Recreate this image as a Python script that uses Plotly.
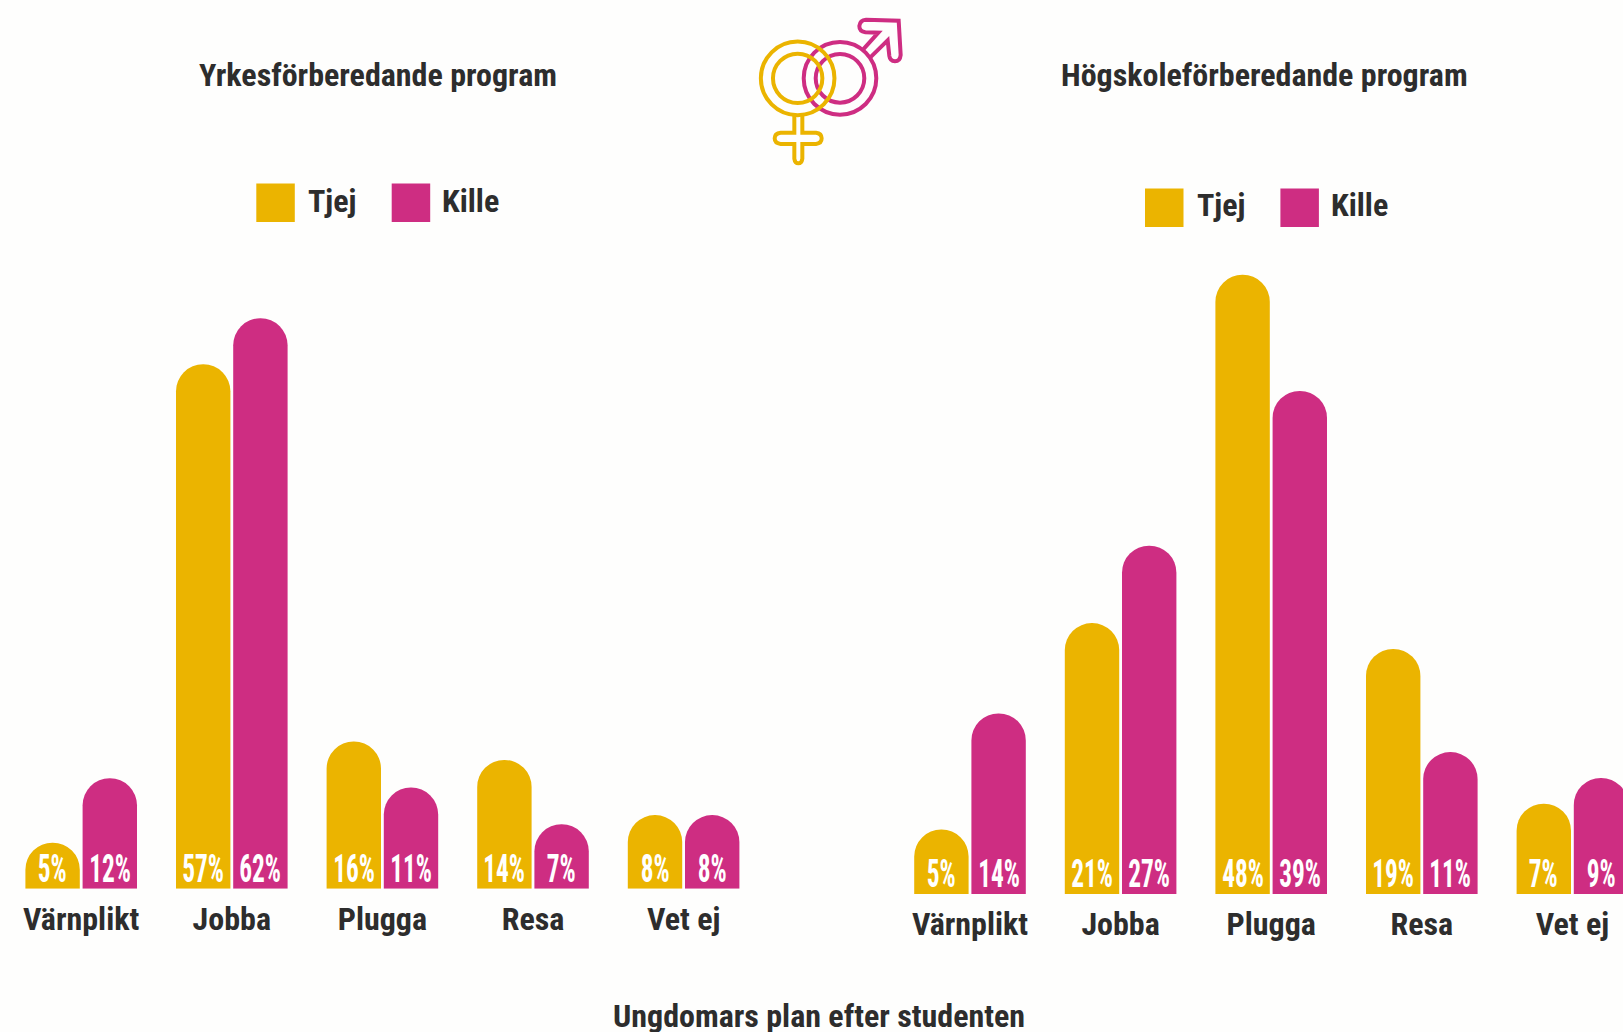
import plotly.graph_objects as go

W, H = 1623, 1032
categories = ["Värnplikt", "Jobba", "Plugga", "Resa", "Vet ej"]
left_tjej = [5, 57, 16, 14, 8]
left_kille = [12, 62, 11, 7, 8]
right_tjej = [5, 21, 48, 19, 7]
right_kille = [14, 27, 39, 11, 9]
series_names = ["Tjej", "Kille"]
left_title = "Yrkesförberedande program"
right_title = "Högskoleförberedande program"
footer = "Ungdomars plan efter studenten"

YELLOW = "#EBB400"
PINK = "#CE2D82"
DARK = "#2D2D2D"
BG = "#FEFEFD"
HEAD = "Roboto Condensed, Liberation Sans Narrow, Roboto, sans-serif"

def px(x): return x / W
def py(y): return 1 - y / H

fig = go.Figure()
ann = []
BAR_SHIFT = 28.6
def add_bars(vals, name, color, xa, ya, shift):
    fig.add_trace(go.Bar(
        x=categories, y=vals, name=name, xaxis=xa, yaxis=ya,
        marker=dict(color=color, cornerradius=27, line=dict(width=0)),
        showlegend=False, hoverinfo="skip"))
    for i, v in enumerate(vals):
        ann.append(dict(xref=xa, yref=ya, x=i, y=0, text=f"{v}%", showarrow=False,
                        xanchor="center", yanchor="bottom", xshift=shift, yshift=-5,
                        font=dict(family=HEAD, size=39, color="white", weight="bold")))
add_bars(left_tjej, series_names[0], YELLOW, "x", "y", -BAR_SHIFT)
add_bars(left_kille, series_names[1], PINK, "x", "y", BAR_SHIFT)
add_bars(right_tjej, series_names[0], YELLOW, "x2", "y2", -BAR_SHIFT)
add_bars(right_kille, series_names[1], PINK, "x2", "y2", BAR_SHIFT)

PITCH = 150.6
def xaxis(domain, rng):
    return dict(domain=domain, range=rng, type="category", categoryorder="array", categoryarray=categories,
                showgrid=False, zeroline=False, showline=False, ticks="", ticklabelstandoff=8,
                tickfont=dict(family=HEAD, size=32, color=DARK, weight="bold"))
def yaxis(bottom_px, top_px, pp):
    return dict(domain=[py(bottom_px), py(top_px)], range=[0, (bottom_px - top_px) / pp],
                visible=False)

ya1 = yaxis(888.7, 250, 9.2); ya1["anchor"] = "x"
ya2 = yaxis(894, 250, 12.9); ya2["anchor"] = "x2"
xa1 = xaxis([px(5.9), px(5.9 + 5 * PITCH)], [-0.5, 4.5]); xa1["anchor"] = "y"
xa2 = xaxis([px(894.7), 1], [-0.5, (W - 970) / PITCH]); xa2["anchor"] = "y2"

def txt(x, y, s, size, anchor="center"):
    ann.append(dict(xref="paper", yref="paper", x=px(x), y=py(y), text=s, showarrow=False,
                    xanchor=anchor, yanchor="middle",
                    font=dict(family=HEAD, size=size, color=DARK, weight="bold")))
txt(377.8, 75, left_title, 32)
txt(1264.4, 75, right_title, 32)
txt(819, 1016, footer, 32)

shapes = []
def square(x0, y0, c):
    shapes.append(dict(type="rect", xref="paper", yref="paper", x0=px(x0), x1=px(x0 + 38.5),
                       y0=py(y0), y1=py(y0 + 38.5), fillcolor=c, line=dict(width=0)))
for (x0, y0, tx1, tx2) in [(256.3, 183.5, 305.7, 440), (1145, 188.4, 1194.6, 1328.5)]:
    square(x0, y0, YELLOW)
    square(x0 + 135.4, y0, PINK)
    txt(tx1, y0 + 17, series_names[0], 32, "left")
    txt(tx2, y0 + 17, series_names[1], 32, "left")

# icon, drawn in 3x zoom coordinates offset to (740, 0)
def zx(v): return 740 + v / 3
def zy(v): return v / 3
def circle(cx, cy, r, c):
    shapes.append(dict(type="circle", xref="paper", yref="paper",
                       x0=px(zx(cx) - r), x1=px(zx(cx) + r), y0=py(zy(cy) + r), y1=py(zy(cy) - r),
                       line=dict(color=c, width=4), fillcolor="rgba(0,0,0,0)"))
def path(cmds, c):
    out = []
    for cmd in cmds:
        if isinstance(cmd, str):
            if cmd:
                out.append(cmd)
        else:
            out.append(f"{px(zx(cmd[0])):.5f},{py(zy(cmd[1])):.5f}")
    shapes.append(dict(type="path", xref="paper", yref="paper", path=" ".join(out),
                       line=dict(color=c, width=4), fillcolor="rgba(0,0,0,0)"))
circle(300, 235, 36.3, PINK)
circle(300, 235, 24.3, PINK)
path(["M", (369, 149), "L", (415, 98), "L", (376, 97), "Q", (358, 94), (358, 78), "Q", (360, 60), (378, 59),
      "L", (476, 62), "L", (482, 165), "Q", (480, 184), (465, 184), "Q", (450, 183), (448, 168),
      "L", (443, 121), "L", (391, 172)], PINK)
circle(173, 235, 36.8, YELLOW)
circle(173, 235, 24.7, YELLOW)
path(["M", (163, 346), "L", (163, 398), "L", (122, 398), "Q", (104, 400), (104, 415), "Q", (104, 430), (122, 432),
      "L", (163, 432), "L", (163, 476), "Q", (165, 490), (175, 490), "Q", (185, 490), (187, 476),
      "L", (187, 432), "L", (228, 432), "Q", (245, 430), (245, 415), "Q", (245, 400), (228, 398),
      "L", (187, 398), "L", (187, 346)], YELLOW)

fig.update_layout(
    width=W, height=H, margin=dict(l=0, r=0, t=0, b=0), autosize=False,
    paper_bgcolor=BG, plot_bgcolor=BG,
    barmode="group", bargap=0.2404, bargroupgap=0.049,
    xaxis=xa1, yaxis=ya1, xaxis2=xa2, yaxis2=ya2,
    annotations=ann, shapes=shapes, showlegend=False,
)
squeeze = """
document.body.style.margin='0';
document.documentElement.style.overflow='hidden';
document.querySelectorAll('.annotation-text').forEach(function(t){
  if(!/%$/.test(t.textContent)) return;
  var x=parseFloat(t.getAttribute('x'))||0;
  t.setAttribute('transform','translate('+x+',0) scale(0.65,1) translate('+(-x)+',0)');
});
"""
fig.write_html("out.html", post_script=squeeze, config={"displayModeBar": False})
